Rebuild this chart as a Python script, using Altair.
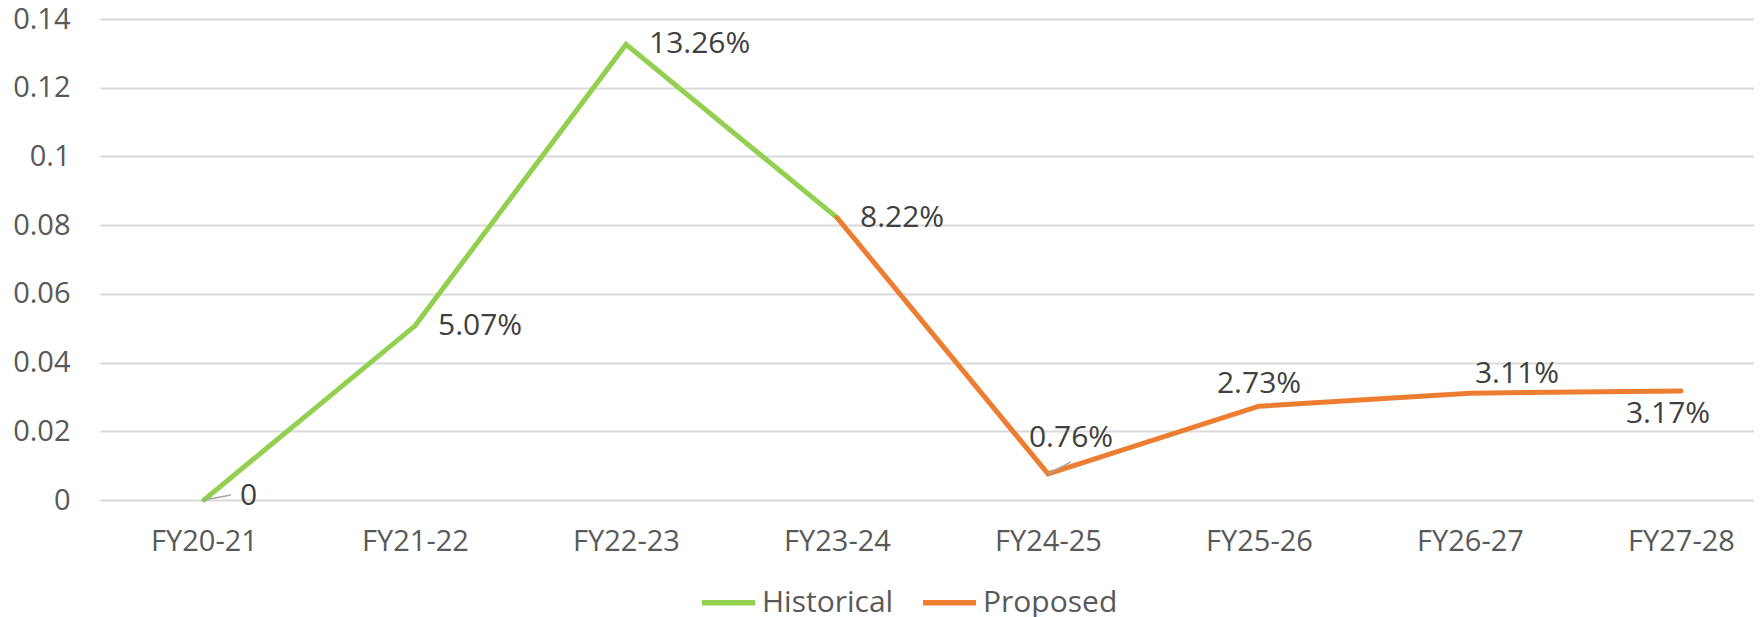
import altair as alt
import pandas as pd

# ---- data ----
categories = ["FY20-21", "FY21-22", "FY22-23", "FY23-24",
              "FY24-25", "FY25-26", "FY26-27", "FY27-28"]
growth = [0.0, 0.0507, 0.1326, 0.0822, 0.0076, 0.0273, 0.0311, 0.0317]
value_labels = ["0", "5.07%", "13.26%", "8.22%", "0.76%", "2.73%", "3.11%", "3.17%"]
historical_idx = [0, 1, 2, 3]
proposed_idx = [3, 4, 5, 6, 7]
series_names = ["Historical", "Proposed"]
series_colors = ["#92D050", "#ED7D31"]
y_ticks = [0, 0.02, 0.04, 0.06, 0.08, 0.1, 0.12, 0.14]

rows = []
for name, idxs in zip(series_names, [historical_idx, proposed_idx]):
    for i in idxs:
        rows.append({"cat": categories[i], "value": growth[i], "series": name, "order": i})
line_df = pd.DataFrame(rows)
label_df = pd.DataFrame({"cat": categories, "value": growth, "label": value_labels})

FONT = "Open Sans"

x_scale = alt.Scale(type="point", domain=categories, padding=0.4194, align=0.5876)
y_scale = alt.Scale(domain=[0, 0.14], nice=False, zero=True)

x_enc = alt.X("cat:N", scale=x_scale, sort=categories, title=None,
              axis=alt.Axis(labelFontSize=29, labelColor="#595959", labelFont=FONT,
                            ticks=False, tickSize=0, domain=False, grid=False,
                            labelPadding=27, labelAngle=0))
y_enc = alt.Y("value:Q", scale=y_scale, title=None,
              axis=alt.Axis(values=y_ticks, format="~g", labelFontSize=29,
                            labelColor="#595959", labelFont=FONT, ticks=False,
                            tickSize=0, domain=False, grid=True, gridColor="#d9d9d9",
                            gridWidth=2, labelPadding=30))

lines = alt.Chart(line_df).mark_line(strokeWidth=5, strokeCap="round").encode(
    x=x_enc,
    y=y_enc,
    color=alt.Color("series:N",
                    scale=alt.Scale(domain=series_names, range=series_colors),
                    legend=alt.Legend(orient="none", legendX=599, legendY=554,
                                      direction="horizontal", title=None,
                                      symbolType="stroke", symbolSize=2809,
                                      symbolStrokeWidth=5.5, labelFontSize=30,
                                      labelColor="#595959", labelFont=FONT,
                                      labelOffset=4, columnPadding=18, padding=0)),
    order="order:Q",
)

# label placement styles (align, dx, dy) per category index
label_styles = {
    0: ("left", 36, -4),
    1: ("left", 23, 0),
    2: ("left", 23, 0),
    3: ("left", 23, 0),
    4: ("center", 23, -36),
    5: ("center", 0, -22),
    6: ("center", 47, -19),
    7: ("center", -13, 23),
}
leader_styles = {0: (27, -5), 4: (23, -12)}

layers = [lines]
base = alt.Chart(label_df)
for i, (al, dx, dy) in label_styles.items():
    layers.append(
        base.transform_filter(alt.datum.cat == categories[i])
        .mark_text(align=al, baseline="middle", dx=dx, dy=dy, fontSize=30,
                   font=FONT, color="#404040")
        .encode(x=alt.X("cat:N", scale=x_scale), y=alt.Y("value:Q", scale=y_scale),
                text="label:N")
    )
for i, (ox, oy) in leader_styles.items():
    layers.append(
        base.transform_filter(alt.datum.cat == categories[i])
        .mark_rule(x2Offset=ox, y2Offset=oy, color="#a6a6a6", strokeWidth=1.5)
        .encode(x=alt.X("cat:N", scale=x_scale), x2="cat:N",
                y=alt.Y("value:Q", scale=y_scale), y2="value:Q")
    )

chart = alt.layer(*layers).properties(
    width=1654, height=481,
    autosize=alt.AutoSizeParams(type="none"),
    padding={"left": 92, "top": 11, "right": 0, "bottom": 117},
).configure_view(stroke=None)

chart.save("out.html", embed_options={"renderer": "svg", "actions": False})
